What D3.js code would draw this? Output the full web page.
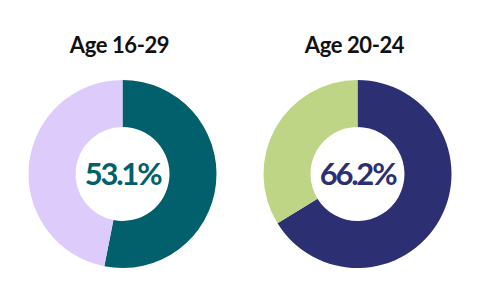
<!DOCTYPE html>
<html><head><meta charset="utf-8">
<script src="https://cdn.jsdelivr.net/npm/d3@7"></script>
<style>html,body{margin:0;padding:0;background:#fff;}svg{display:block;}</style>
</head><body>
<script>
const titles = ["Age 16-29", "Age 20-24"];
const values = [53.1, 66.2];
const mainColors = ["#02606C", "#2D2F73"];
const restColors = ["#DCCBFB", "#BDD585"];

const W = 480, H = 305;
const svg = d3.select("body").append("svg").attr("width", W).attr("height", H);
const x = d3.scalePoint().domain(titles).range([122.5, 357.5]);
const outerR = 94, innerR = 47, cy = 174;
const pie = d3.pie().sort(null).value(d => d.v);
const arc = d3.arc().innerRadius(innerR).outerRadius(outerR);

titles.forEach((t, i) => {
  const g = svg.append("g").attr("transform", `translate(${x(t)},${cy})`);
  const data = [{v: values[i], c: mainColors[i]}, {v: 100 - values[i], c: restColors[i]}];
  g.selectAll("path").data(pie(data)).join("path").attr("d", arc).attr("fill", d => d.data.c);
  g.append("text").attr("text-anchor", "middle").attr("x", 0).attr("y", 11)
    .attr("font-family", "Lato").attr("font-size", 31).attr("font-weight", 700)
    .attr("letter-spacing", -2.2)
    .attr("fill", mainColors[i]).text(d3.format(".1f")(values[i]) + "%");
  svg.append("text").attr("x", x(t) - 3).attr("y", 53).attr("text-anchor", "middle")
    .attr("font-family", "Lato").attr("font-size", 22).attr("font-weight", 700)
    .attr("letter-spacing", -0.4)
    .attr("fill", "#111").text(t);
});
</script>
</body></html>
